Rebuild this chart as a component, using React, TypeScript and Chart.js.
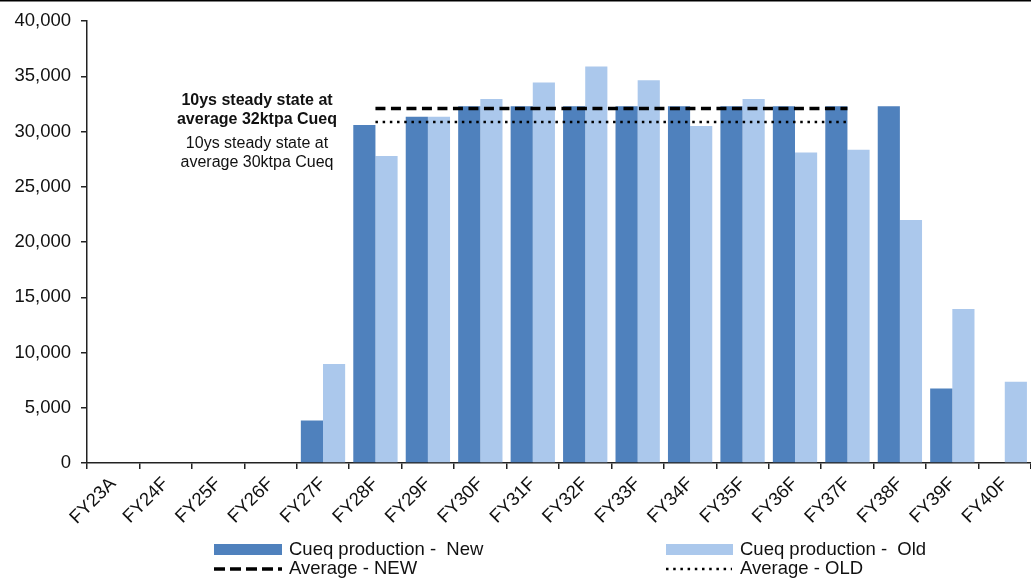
import { useEffect, useRef } from 'react';
import { Chart, registerables } from 'chart.js';

Chart.register(...registerables);

const categories = ['FY23A', 'FY24F', 'FY25F', 'FY26F', 'FY27F', 'FY28F', 'FY29F', 'FY30F', 'FY31F', 'FY32F', 'FY33F', 'FY34F', 'FY35F', 'FY36F', 'FY37F', 'FY38F', 'FY39F', 'FY40F'];
const productionNew = [0, 0, 0, 0, 3850, 30600, 31350, 32300, 32300, 32300, 32300, 32300, 32300, 32300, 32300, 32300, 6750, 0];
const productionOld = [0, 0, 0, 0, 8950, 27800, 31350, 32950, 34450, 35900, 34650, 30500, 32950, 28100, 28350, 22000, 13950, 7350];
const averageNew = [null, null, null, null, null, 32100, 32100, 32100, 32100, 32100, 32100, 32100, 32100, 32100, 32100, null, null, null];
const averageOld = [null, null, null, null, null, 30870, 30870, 30870, 30870, 30870, 30870, 30870, 30870, 30870, 30870, null, null, null];
const yTicks = [0, 5000, 10000, 15000, 20000, 25000, 30000, 35000, 40000];

const seriesLabels = ['Cueq production -  New', 'Cueq production -  Old', 'Average - NEW', 'Average - OLD'];
const noteNew = ['10ys steady state at', 'average 32ktpa Cueq'];
const noteOld = ['10ys steady state at', 'average 30ktpa Cueq'];

const FONT = '"Liberation Sans", Arial, Helvetica, sans-serif';
const COLOR_NEW = '#4F81BD';
const COLOR_OLD = '#ABC8EC';
const AXIS = '#222222';
const TEXT = '#111111';

const overlayPlugin = {
  id: 'overlay',
  afterDraw(chart: any) {
    const ctx = chart.ctx as CanvasRenderingContext2D;
    ctx.save();
    // top frame line
    ctx.fillStyle = '#000';
    ctx.fillRect(0, 0, chart.width, 1.5);

    // annotations
    ctx.fillStyle = TEXT;
    ctx.textAlign = 'center';
    ctx.textBaseline = 'middle';
    ctx.font = `bold 16px ${FONT}`;
    ctx.fillText(noteNew[0], 257, 101);
    ctx.fillText(noteNew[1], 257, 120);
    ctx.font = `16px ${FONT}`;
    ctx.fillText(noteOld[0], 257, 144);
    ctx.fillText(noteOld[1], 257, 163);

    // legend
    ctx.textAlign = 'left';
    ctx.font = `18.5px ${FONT}`;
    ctx.fillStyle = COLOR_NEW;
    ctx.fillRect(214, 544, 68, 11);
    ctx.fillStyle = COLOR_OLD;
    ctx.fillRect(666, 544, 67, 11);

    ctx.strokeStyle = '#000';
    ctx.lineWidth = 3.5;
    ctx.setLineDash([11, 5]);
    ctx.beginPath();
    ctx.moveTo(214, 569);
    ctx.lineTo(282, 569);
    ctx.stroke();

    ctx.lineWidth = 2.5;
    ctx.setLineDash([2.5, 4.7]);
    ctx.beginPath();
    ctx.moveTo(666, 569);
    ctx.lineTo(732, 569);
    ctx.stroke();
    ctx.setLineDash([]);

    ctx.fillStyle = TEXT;
    ctx.fillText(seriesLabels[0], 289, 550);
    ctx.fillText(seriesLabels[1], 740, 550);
    ctx.fillText(seriesLabels[2], 289, 569);
    ctx.fillText(seriesLabels[3], 740, 569);
    ctx.restore();
  },
};

export default function App() {
  const canvasRef = useRef<HTMLCanvasElement | null>(null);

  useEffect(() => {
    document.body.style.margin = '0';
    const canvas = canvasRef.current;
    if (!canvas) return;
    const chart = new Chart(canvas, {
      type: 'bar',
      data: {
        labels: categories,
        datasets: [
          {
            type: 'line',
            label: seriesLabels[2],
            data: averageNew as any,
            borderColor: '#000',
            borderWidth: 3.5,
            borderDash: [10, 5.5],
            pointRadius: 0,
            fill: false,
            order: 0,
          } as any,
          {
            type: 'line',
            label: seriesLabels[3],
            data: averageOld as any,
            borderColor: '#000',
            borderWidth: 2.5,
            borderDash: [2.5, 4.7],
            pointRadius: 0,
            fill: false,
            order: 0,
          } as any,
          {
            type: 'bar',
            label: seriesLabels[0],
            data: productionNew,
            backgroundColor: COLOR_NEW,
            categoryPercentage: 0.845,
            barPercentage: 1.0,
            order: 1,
          },
          {
            type: 'bar',
            label: seriesLabels[1],
            data: productionOld,
            backgroundColor: COLOR_OLD,
            categoryPercentage: 0.845,
            barPercentage: 1.0,
            order: 1,
          },
        ],
      },
      options: {
        responsive: false,
        animation: false,
        devicePixelRatio: 1,
        layout: { padding: { top: 20, left: 0, right: 0, bottom: 0 } },
        plugins: {
          legend: { display: false },
          tooltip: { enabled: false },
        },
        scales: {
          x: {
            offset: true,
            grid: {
              display: true,
              drawOnChartArea: false,
              drawTicks: true,
              tickLength: 6,
              color: AXIS,
              lineWidth: 1.5,
              offset: true,
            },
            border: { display: true, color: AXIS, width: 1.5 },
            ticks: {
              autoSkip: false,
              maxRotation: 45,
              minRotation: 45,
              padding: 4,
              color: TEXT,
              font: { family: FONT, size: 18.5 },
            },
            afterFit: (s: any) => {
              s.height = 118;
              s.paddingLeft = 0;
              s.paddingRight = 0;
            },
          },
          y: {
            min: yTicks[0],
            max: yTicks[yTicks.length - 1],
            afterBuildTicks: (s: any) => {
              s.ticks = yTicks.map((v) => ({ value: v }));
            },
            grid: {
              display: true,
              drawOnChartArea: false,
              drawTicks: true,
              tickLength: 6,
              color: AXIS,
              lineWidth: 1.5,
            },
            border: { display: true, color: AXIS, width: 1.5 },
            ticks: {
              padding: 10,
              color: TEXT,
              font: { family: FONT, size: 18.5 },
              callback: (v: any) => Number(v).toLocaleString('en-US'),
            },
            afterFit: (s: any) => {
              s.width = 87;
            },
          },
        },
      },
      plugins: [overlayPlugin],
    });
    return () => chart.destroy();
  }, []);

  return (
    <div style={{ width: 1031, height: 581, background: '#fff' }}>
      <canvas ref={canvasRef} width={1031} height={581} style={{ display: 'block', width: 1031, height: 581 }} />
    </div>
  );
}
